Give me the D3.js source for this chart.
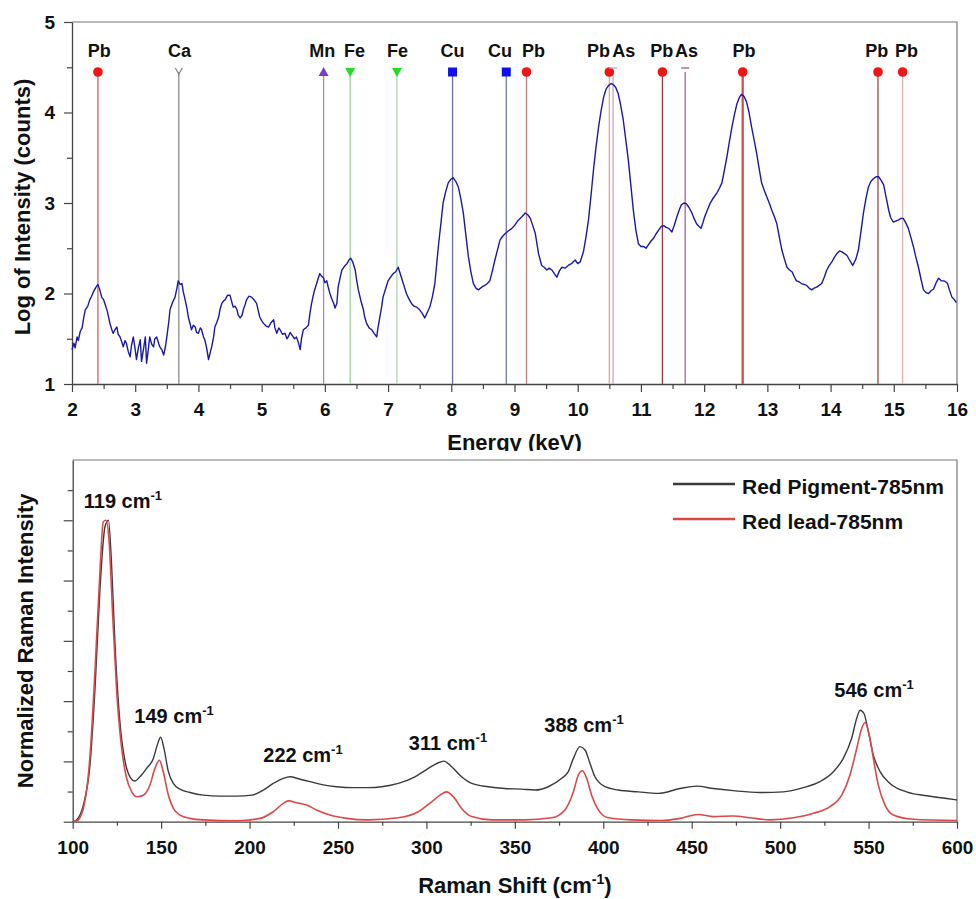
<!DOCTYPE html>
<html>
<head>
<meta charset="utf-8">
<script src="https://cdn.jsdelivr.net/npm/d3@7"></script>
<style>
  body { margin: 0; background: #fff; }
  svg { font-family: "Liberation Sans", Arial, sans-serif; font-weight: bold; }
</style>
</head>
<body>
<svg id="chart" width="976" height="899"></svg>
<script>
// ---- XRF spectrum: [energy keV, log intensity]
var xrfSpectrum = [
  [2.00,1.38],[2.03,1.45],[2.05,1.40],[2.08,1.52],[2.10,1.48],[2.13,1.58],[2.16,1.62],[2.19,1.75],[2.21,1.82],[2.25,1.86],
  [2.28,1.93],[2.31,1.97],[2.34,2.02],[2.38,2.07],[2.41,2.10],[2.44,2.04],[2.47,1.96],[2.50,1.93],[2.52,1.89],[2.56,1.80],
  [2.60,1.67],[2.63,1.60],[2.65,1.56],[2.68,1.60],[2.71,1.63],[2.73,1.55],[2.76,1.52],[2.79,1.46],[2.81,1.41],[2.84,1.48],
  [2.86,1.45],[2.89,1.36],[2.92,1.30],[2.94,1.42],[2.97,1.52],[3.00,1.38],[3.02,1.27],[3.05,1.40],[3.08,1.49],[3.10,1.25],
  [3.13,1.38],[3.16,1.52],[3.18,1.23],[3.21,1.40],[3.23,1.52],[3.26,1.44],[3.29,1.41],[3.31,1.50],[3.34,1.52],[3.37,1.45],
  [3.39,1.41],[3.42,1.38],[3.45,1.32],[3.48,1.42],[3.50,1.52],[3.53,1.68],[3.55,1.82],[3.59,1.90],[3.63,1.96],[3.66,2.06],
  [3.68,2.14],[3.71,2.10],[3.74,2.11],[3.76,2.02],[3.79,1.93],[3.82,1.83],[3.84,1.74],[3.87,1.66],[3.89,1.60],[3.92,1.65],
  [3.95,1.63],[3.97,1.57],[4.00,1.56],[4.03,1.62],[4.05,1.60],[4.08,1.52],[4.10,1.49],[4.13,1.40],[4.16,1.27],[4.18,1.33],
  [4.21,1.41],[4.24,1.52],[4.26,1.63],[4.29,1.68],[4.32,1.74],[4.34,1.82],[4.37,1.89],[4.40,1.92],[4.42,1.93],[4.46,1.98],
  [4.50,1.98],[4.53,1.90],[4.55,1.85],[4.58,1.86],[4.61,1.82],[4.63,1.76],[4.66,1.73],[4.69,1.76],[4.71,1.82],[4.74,1.88],
  [4.76,1.93],[4.80,1.97],[4.84,1.96],[4.88,1.93],[4.92,1.89],[4.95,1.80],[4.97,1.74],[5.00,1.70],[5.03,1.67],[5.07,1.64],
  [5.11,1.63],[5.15,1.68],[5.19,1.71],[5.21,1.62],[5.24,1.56],[5.27,1.62],[5.29,1.60],[5.33,1.55],[5.37,1.56],[5.40,1.50],
  [5.42,1.52],[5.45,1.57],[5.48,1.54],[5.52,1.50],[5.55,1.52],[5.58,1.46],[5.61,1.38],[5.63,1.50],[5.66,1.60],[5.70,1.62],
  [5.74,1.65],[5.76,1.76],[5.79,1.89],[5.83,2.02],[5.87,2.11],[5.90,2.18],[5.92,2.22],[5.95,2.19],[5.98,2.17],[6.00,2.12],
  [6.03,2.14],[6.05,2.08],[6.08,2.00],[6.11,1.94],[6.14,1.89],[6.16,1.84],[6.19,1.89],[6.21,2.07],[6.24,2.17],[6.27,2.26],
  [6.31,2.30],[6.35,2.33],[6.38,2.37],[6.41,2.39],[6.44,2.35],[6.48,2.26],[6.50,2.16],[6.53,2.04],[6.57,1.92],[6.61,1.82],
  [6.63,1.74],[6.66,1.67],[6.70,1.62],[6.74,1.60],[6.78,1.56],[6.82,1.52],[6.84,1.62],[6.87,1.74],[6.90,1.86],[6.92,1.96],
  [6.96,2.05],[7.00,2.14],[7.04,2.18],[7.08,2.22],[7.12,2.24],[7.16,2.29],[7.21,2.18],[7.25,2.09],[7.29,2.00],[7.33,1.94],
  [7.37,1.89],[7.41,1.86],[7.45,1.85],[7.50,1.82],[7.54,1.78],[7.58,1.73],[7.62,1.79],[7.66,1.85],[7.70,1.96],[7.74,2.11],
  [7.77,2.33],[7.80,2.55],[7.84,2.80],[7.87,3.00],[7.91,3.12],[7.95,3.22],[7.99,3.26],[8.03,3.28],[8.07,3.24],[8.11,3.18],
  [8.15,3.05],[8.19,2.89],[8.23,2.65],[8.27,2.41],[8.31,2.24],[8.35,2.11],[8.39,2.06],[8.43,2.04],[8.48,2.07],[8.53,2.09],
  [8.57,2.11],[8.61,2.14],[8.65,2.25],[8.69,2.37],[8.73,2.48],[8.77,2.59],[8.81,2.63],[8.85,2.66],[8.90,2.69],[8.96,2.72],
  [9.01,2.76],[9.06,2.81],[9.12,2.85],[9.17,2.89],[9.21,2.87],[9.25,2.83],[9.29,2.75],[9.33,2.66],[9.38,2.44],[9.43,2.31],
  [9.47,2.29],[9.51,2.26],[9.55,2.28],[9.59,2.26],[9.63,2.22],[9.67,2.18],[9.71,2.25],[9.75,2.29],[9.80,2.28],[9.85,2.31],
  [9.90,2.33],[9.96,2.37],[10.00,2.33],[10.04,2.35],[10.09,2.46],[10.13,2.62],[10.17,2.81],[10.21,3.08],[10.25,3.37],[10.29,3.62],
  [10.33,3.84],[10.37,4.02],[10.41,4.17],[10.45,4.26],[10.49,4.30],[10.53,4.32],[10.56,4.31],[10.60,4.28],[10.64,4.21],[10.68,4.08],
  [10.72,3.92],[10.76,3.70],[10.80,3.48],[10.84,3.20],[10.88,2.92],[10.92,2.70],[10.96,2.55],[11.00,2.52],[11.04,2.52],[11.08,2.50],
  [11.12,2.54],[11.16,2.58],[11.20,2.61],[11.24,2.66],[11.28,2.70],[11.32,2.74],[11.36,2.75],[11.40,2.73],[11.44,2.72],[11.49,2.68],
  [11.53,2.76],[11.57,2.85],[11.61,2.93],[11.64,2.98],[11.68,3.00],[11.72,2.99],[11.76,2.95],[11.80,2.90],[11.84,2.83],[11.88,2.77],
  [11.92,2.74],[11.95,2.72],[11.98,2.78],[12.01,2.85],[12.05,2.92],[12.09,2.99],[12.14,3.05],[12.20,3.11],[12.24,3.16],[12.28,3.22],
  [12.32,3.36],[12.36,3.51],[12.40,3.68],[12.44,3.84],[12.48,3.98],[12.52,4.10],[12.56,4.17],[12.59,4.20],[12.63,4.18],[12.67,4.12],
  [12.71,4.00],[12.75,3.84],[12.79,3.70],[12.83,3.55],[12.87,3.38],[12.91,3.22],[12.95,3.14],[12.99,3.07],[13.03,3.00],[13.07,2.92],
  [13.11,2.85],[13.15,2.77],[13.19,2.62],[13.23,2.48],[13.27,2.38],[13.31,2.29],[13.35,2.26],[13.39,2.24],[13.43,2.18],[13.46,2.14],
  [13.50,2.13],[13.54,2.11],[13.58,2.10],[13.62,2.09],[13.66,2.06],[13.70,2.04],[13.74,2.06],[13.78,2.07],[13.82,2.09],[13.86,2.11],
  [13.90,2.18],[13.94,2.26],[13.98,2.31],[14.02,2.35],[14.06,2.40],[14.10,2.44],[14.14,2.47],[14.18,2.46],[14.22,2.44],[14.26,2.42],
  [14.30,2.37],[14.35,2.31],[14.40,2.38],[14.44,2.48],[14.48,2.68],[14.52,2.89],[14.56,3.05],[14.60,3.18],[14.64,3.24],[14.68,3.27],
  [14.72,3.29],[14.76,3.29],[14.80,3.25],[14.84,3.20],[14.88,3.06],[14.92,2.92],[14.95,2.84],[14.99,2.79],[15.03,2.80],[15.07,2.81],
  [15.11,2.83],[15.15,2.83],[15.19,2.78],[15.23,2.72],[15.27,2.62],[15.31,2.52],[15.35,2.40],[15.39,2.29],[15.43,2.16],[15.47,2.04],
  [15.51,2.01],[15.55,2.00],[15.59,2.03],[15.63,2.05],[15.67,2.12],[15.71,2.17],[15.75,2.14],[15.79,2.14],[15.82,2.13],[15.85,2.11],
  [15.88,2.04],[15.92,1.96],[15.96,1.93],[15.99,1.90]
];

// ---- element lines
var elements    = ['Pb','Ca','Mn','Fe','Fe','Cu','Cu','Pb','Pb','As','Pb','As','Pb','Pb','Pb'];
var lineEnergy  = [2.41,3.69,5.98,6.40,7.14,8.02,8.87,9.19,10.50,10.56,11.34,11.70,12.61,14.75,15.14];
var labelEnergy = [2.43,3.70,5.96,6.47,7.15,8.02,8.77,9.30,10.33,10.73,11.33,11.72,12.63,14.73,15.20];
var markerKind  = ['circle','ychev','triup','tridown','tridown','square','square','circle','circle','tbar','circle','tbar','circle','circle','circle'];
var lineColors  = ['#e05a5a','#8a8a8a','#a688c8','#92d892','#a6dca6','#6a6aa8','#7474b4','#c47a7a','#e8a890','#d4a4cc','#9a3a3a','#b060a4','#c44c4c','#a84444','#dab4b4'];

var xrfXTicks = [2,3,4,5,6,7,8,9,10,11,12,13,14,15,16];
var xrfYTicks = [1,2,3,4,5];

// ---- Raman spectra: [wavenumber cm-1, normalized intensity]
var redPigment = [
  [100,0.0],[102.2,0.006],[106,0.055],[109.8,0.19],[112.6,0.44],[115.4,0.77],[118.3,0.98],[120.2,1.0],[122,0.85],[123.9,0.59],
  [126.7,0.33],[129.6,0.20],[132.4,0.149],[135.2,0.135],[138,0.149],[141.8,0.177],[145.6,0.21],[147.8,0.254],[149.7,0.28],[151.6,0.243],
  [154.1,0.166],[156.9,0.127],[160.7,0.108],[166.3,0.097],[173.9,0.088],[183.3,0.085],[192.7,0.085],[201.2,0.088],[207.8,0.105],[213.4,0.127],
  [219.1,0.144],[222.9,0.149],[228.5,0.141],[234.2,0.133],[241.7,0.122],[249.2,0.116],[258.7,0.113],[267.1,0.113],[274.7,0.116],[284.1,0.127],
  [293.5,0.149],[301.1,0.177],[305.8,0.193],[309.9,0.201],[314.3,0.182],[319.9,0.149],[325.6,0.127],[335,0.116],[344.4,0.11],[353.8,0.108],
  [361.4,0.105],[368.9,0.116],[376.5,0.144],[380.2,0.166],[383.1,0.21],[386.8,0.249],[389.7,0.238],[392.5,0.193],[395.3,0.149],[401,0.116],
  [408.5,0.105],[419.8,0.099],[431.1,0.094],[443.4,0.11],[452.8,0.118],[462.2,0.11],[473.5,0.103],[488.6,0.097],[501.8,0.099],[513.1,0.113],
  [522.5,0.133],[530.1,0.166],[535.7,0.21],[540.4,0.276],[543.3,0.343],[545.2,0.37],[547.4,0.359],[549.9,0.298],[552.7,0.221],[556.5,0.166],
  [562.1,0.127],[571.5,0.099],[582.8,0.086],[594.2,0.077],[600,0.072]
];
var redLead = [
  [100,0.0],[102.2,0.002],[106,0.044],[109.8,0.22],[112.6,0.50],[115.4,0.83],[117.3,0.995],[118.8,1.0],[120.7,0.92],[122.6,0.685],
  [124.9,0.43],[127.7,0.243],[130.5,0.144],[133.3,0.10],[136.2,0.083],[139.9,0.088],[143.7,0.122],[146.5,0.177],[149,0.204],[151.2,0.166],
  [154.1,0.088],[156.9,0.044],[160.7,0.022],[166.3,0.011],[173.9,0.006],[192.7,0.003],[205.9,0.011],[213.4,0.033],[219.1,0.061],[221.9,0.069],
  [226.6,0.063],[232.3,0.055],[237.9,0.039],[245.5,0.022],[254.9,0.011],[267.1,0.006],[284.1,0.013],[295.4,0.033],[302.9,0.066],[307.7,0.088],
  [311.4,0.099],[315.2,0.083],[319.9,0.044],[325.6,0.017],[336.9,0.006],[355.7,0.006],[370.8,0.013],[378.3,0.039],[383.1,0.099],[385.9,0.155],
  [388.2,0.169],[390.6,0.144],[393.4,0.088],[397.2,0.039],[402.8,0.013],[416,0.006],[433,0.004],[443.4,0.011],[453.7,0.024],[462.2,0.017],
  [473.5,0.019],[483,0.013],[494.3,0.006],[507.5,0.013],[518.8,0.028],[528.2,0.05],[534.8,0.088],[539.5,0.155],[543.3,0.243],[546.1,0.309],
  [548,0.329],[550.4,0.287],[552.7,0.21],[555.5,0.122],[559.3,0.055],[564,0.022],[575.3,0.008],[600,0.004]
];
var ramanSeries = ['Red Pigment-785nm', 'Red lead-785nm'];
// peak labels: text, label position in data units
var peakText  = ['119','149','222','311','388','546'];
var peakLabelAt = [[128.4,1.04],[157.3,0.327],[230.2,0.198],[312.2,0.238],[389.1,0.298],[553.1,0.413]];
var ramanXTicks = [100,150,200,250,300,350,400,450,500,550,600];

var svg = d3.select('#chart');

// =================== top chart : XRF ===================
var pT = {left: 72, right: 957, top: 22, bottom: 384};
var x1 = d3.scaleLinear().domain([2, 16]).range([pT.left, pT.right]);
var y1 = d3.scaleLinear().domain([1, 5]).range([pT.bottom, pT.top]);

// frame
svg.append('path')
    .attr('d', 'M' + pT.left + ',' + pT.top + 'H' + pT.right + 'V' + pT.bottom)
    .attr('fill', 'none').attr('stroke', '#777').attr('stroke-width', 1.2);

// minor ticks
svg.append('g').attr('transform', 'translate(0,' + pT.bottom + ')')
    .call(d3.axisBottom(x1).tickValues(d3.range(2.5, 16, 1)).tickSize(5).tickFormat(''))
    .call(function (g) { g.select('.domain').remove(); });
svg.append('g').attr('transform', 'translate(' + pT.left + ',0)')
    .call(d3.axisLeft(y1).tickValues([1.5, 2.5, 3.5, 4.5]).tickSize(5).tickFormat(''))
    .call(function (g) { g.select('.domain').remove(); });

var xAx1 = svg.append('g').attr('transform', 'translate(0,' + pT.bottom + ')')
    .call(d3.axisBottom(x1).tickValues(xrfXTicks).tickSizeInner(8).tickSizeOuter(0).tickPadding(11).tickFormat(d3.format('d')));
var yAx1 = svg.append('g').attr('transform', 'translate(' + pT.left + ',0)')
    .call(d3.axisLeft(y1).tickValues(xrfYTicks).tickSizeInner(8).tickSizeOuter(0).tickPadding(9).tickFormat(d3.format('d')));

// element lines
var elIdx = d3.range(elements.length);
svg.append('g').selectAll('line').data(elIdx).join('line')
    .attr('x1', function (i) { return x1(lineEnergy[i]); })
    .attr('x2', function (i) { return x1(lineEnergy[i]); })
    .attr('y1', 72).attr('y2', pT.bottom)
    .attr('stroke', function (i) { return lineColors[i]; })
    .attr('stroke-width', function (i) { return elements[i] === 'Pb' && lineEnergy[i] > 12 && lineEnergy[i] < 13 ? 2.2 : 1.3; });

// spectrum
var xrfLine = d3.line()
    .x(function (d) { return x1(d[0]); })
    .y(function (d) { return y1(d[1]); });
svg.append('path')
    .datum(xrfSpectrum)
    .attr('fill', 'none')
    .attr('stroke', '#1818aa')
    .attr('stroke-width', 1.4)
    .attr('stroke-linejoin', 'round')
    .attr('d', xrfLine);

// markers
var mk = svg.append('g');
elIdx.forEach(function (i) {
    var cx = x1(lineEnergy[i]), cy = 72;
    var k = markerKind[i];
    if (k === 'circle') {
        mk.append('circle').attr('cx', cx).attr('cy', cy).attr('r', 4.8).attr('fill', '#ee1515');
    } else if (k === 'square') {
        mk.append('rect').attr('x', cx - 4.5).attr('y', cy - 4.5).attr('width', 9).attr('height', 9).attr('fill', '#1010ee');
    } else if (k === 'triup') {
        mk.append('path').attr('d', 'M' + cx + ',' + (cy - 5) + 'L' + (cx + 5) + ',' + (cy + 4) + 'L' + (cx - 5) + ',' + (cy + 4) + 'Z').attr('fill', '#7a3fc0');
    } else if (k === 'tridown') {
        mk.append('path').attr('d', 'M' + (cx - 5) + ',' + (cy - 4) + 'L' + (cx + 5) + ',' + (cy - 4) + 'L' + cx + ',' + (cy + 5) + 'Z').attr('fill', '#22dd22');
    } else if (k === 'ychev') {
        mk.append('path').attr('d', 'M' + (cx - 3.5) + ',' + (cy - 4) + 'L' + cx + ',' + (cy + 2) + 'L' + (cx + 3.5) + ',' + (cy - 4))
            .attr('fill', 'none').attr('stroke', '#808080').attr('stroke-width', 1.2);
    } else if (k === 'tbar') {
        mk.append('path').attr('d', 'M' + (cx - 4) + ',' + (cy - 4) + 'H' + (cx + 4))
            .attr('fill', 'none').attr('stroke', lineColors[i]).attr('stroke-width', 1.4);
    }
});

// element labels
svg.append('g').selectAll('text').data(elIdx).join('text')
    .attr('x', function (i) { return x1(labelEnergy[i]); })
    .attr('y', 57)
    .attr('text-anchor', 'middle')
    .attr('font-size', 18)
    .attr('fill', '#111')
    .text(function (i) { return elements[i]; });

// axis titles
svg.append('text')
    .attr('transform', 'translate(30,' + ((pT.top + pT.bottom) / 2 + 4) + ') rotate(-90)')
    .attr('text-anchor', 'middle').attr('font-size', 22).attr('fill', '#111')
    .text('Log of Intensity (counts)');

svg.append('clipPath').attr('id', 'cutTitle')
    .append('rect').attr('x', 0).attr('y', 0).attr('width', 976).attr('height', 451);
svg.append('text')
    .attr('clip-path', 'url(#cutTitle)')
    .attr('x', (pT.left + pT.right) / 2).attr('y', 450)
    .attr('text-anchor', 'middle').attr('font-size', 22).attr('fill', '#111')
    .text('Energy (keV)');

// =================== bottom chart : Raman ===================
var pB = {left: 72.7, right: 957, top: 460, bottom: 821.7};
var x2 = d3.scaleLinear().domain([100, 600]).range([pB.left, pB.right]);
var y2 = d3.scaleLinear().domain([0, 1.2]).range([pB.bottom, pB.top]);

svg.append('path')
    .attr('d', 'M' + pB.left + ',' + pB.top + 'H' + pB.right + 'V' + pB.bottom)
    .attr('fill', 'none').attr('stroke', '#777').attr('stroke-width', 1.2);

svg.append('g').attr('transform', 'translate(0,' + pB.bottom + ')')
    .call(d3.axisBottom(x2).tickValues(d3.range(125, 600, 50)).tickSize(4).tickFormat(''))
    .call(function (g) { g.select('.domain').remove(); });
svg.append('g').attr('transform', 'translate(' + pB.left + ',0)')
    .call(d3.axisLeft(y2).tickValues([0.1, 0.3, 0.5, 0.7, 0.9, 1.1]).tickSize(5).tickFormat(''))
    .call(function (g) { g.select('.domain').remove(); });

var xAx2 = svg.append('g').attr('transform', 'translate(0,' + pB.bottom + ')')
    .call(d3.axisBottom(x2).tickValues(ramanXTicks).tickSizeInner(7).tickSizeOuter(0).tickPadding(12).tickFormat(d3.format('d')));
var yAx2 = svg.append('g').attr('transform', 'translate(' + pB.left + ',0)')
    .call(d3.axisLeft(y2).tickValues([0, 0.2, 0.4, 0.6, 0.8, 1.0]).tickSizeInner(9).tickSizeOuter(0).tickFormat(''));

[xAx1, yAx1, xAx2, yAx2].forEach(function (g) {
    g.selectAll('text').attr('font-size', 19).attr('font-family', '"Liberation Sans", Arial, sans-serif').attr('font-weight', 'bold').attr('fill', '#111');
});
svg.selectAll('.tick line').attr('stroke', '#444').attr('stroke-width', 1.2);
svg.selectAll('.domain').attr('stroke', '#444').attr('stroke-width', 1.3);

var ramanLine = d3.line()
    .curve(d3.curveMonotoneX)
    .x(function (d) { return x2(d[0]); })
    .y(function (d) { return y2(d[1]); });

var ramanColors = ['#3a3a3a', '#dc4848'];
[redPigment, redLead].forEach(function (s, i) {
    svg.append('path')
        .datum(s)
        .attr('fill', 'none')
        .attr('stroke', ramanColors[i])
        .attr('stroke-width', i === 0 ? 1.4 : 1.6)
        .attr('d', ramanLine);
});

// peak labels
peakText.forEach(function (t, i) {
    var tx = svg.append('text')
        .attr('x', x2(peakLabelAt[i][0])).attr('y', y2(peakLabelAt[i][1]))
        .attr('text-anchor', 'middle').attr('font-size', 20).attr('fill', '#111');
    tx.append('tspan').text(t + ' cm');
    tx.append('tspan').attr('font-size', 13).attr('dy', -8).text('-1');
});

// legend
var lg = svg.append('g');
ramanSeries.forEach(function (name, i) {
    var ly = 484 + i * 35;
    lg.append('line').attr('x1', 673).attr('x2', 735).attr('y1', ly).attr('y2', ly)
        .attr('stroke', ramanColors[i]).attr('stroke-width', 2.4);
    lg.append('text').attr('x', 742).attr('y', ly + 10)
        .attr('font-size', 21).attr('fill', '#111').text(name);
});

// axis titles
svg.append('text')
    .attr('transform', 'translate(33,' + ((pB.top + pB.bottom) / 2) + ') rotate(-90)')
    .attr('text-anchor', 'middle').attr('font-size', 22).attr('fill', '#111')
    .text('Normalized Raman Intensity');

var xt = svg.append('text')
    .attr('x', (pB.left + pB.right) / 2).attr('y', 893)
    .attr('text-anchor', 'middle').attr('font-size', 22).attr('fill', '#111');
xt.append('tspan').text('Raman Shift (cm');
xt.append('tspan').attr('font-size', 14).attr('dy', -9).text('-1');
xt.append('tspan').attr('dy', 9).text(')');
</script>
</body>
</html>
